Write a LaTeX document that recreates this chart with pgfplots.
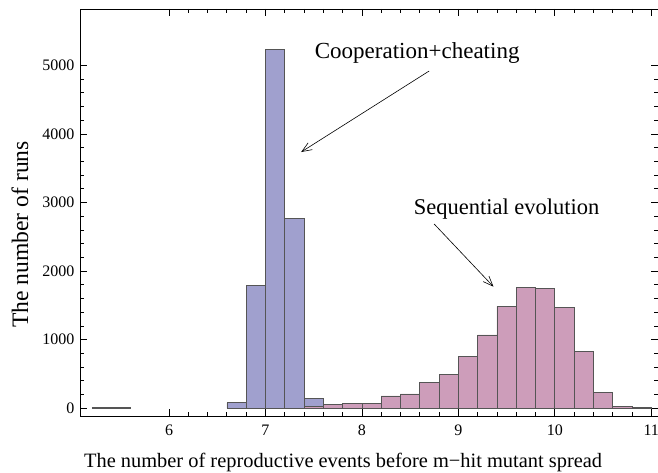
\documentclass[border=0pt]{standalone}
\usepackage{fontspec}
\setmainfont{Liberation Serif}
\usepackage{pgfplots}
\pgfplotsset{compat=1.18}
\usetikzlibrary{arrows.meta}

\definecolor{coopblue}{RGB}{160,160,206}
\definecolor{seqpink}{RGB}{205,157,186}
\definecolor{edgegray}{RGB}{85,85,85}

\begin{document}
\begin{tikzpicture}
\useasboundingbox (-80pt,-57pt) rectangle (578pt,416pt);
\begin{axis}[
  at={(0pt,0pt)}, anchor=south west,
  scale only axis, width=578pt, height=407pt,
  xmin=5.077, xmax=11.07, ymin=-112, ymax=5821,
  xtick={6,7,8,9,10,11}, minor x tick num=4,
  ytick={0,1000,2000,3000,4000,5000}, minor y tick num=4,
  tick align=inside,
  major tick length=7pt, minor tick length=4pt,
  every tick/.style={black, line width=0.8pt},
  axis line style={line width=0.8pt},
  /pgf/number format/assume math mode=true,
  /pgf/number format/1000 sep={},
  ticklabel style={font=\fontsize{16}{19}\selectfont},
  xticklabel style={yshift=-5pt},
  yticklabel style={xshift=-2pt},
  clip=false,
]
% cooperation + cheating
\addplot[ybar interval, fill=coopblue, draw=edgegray, line width=0.7pt]
  coordinates {(5.2,10) (5.4,10) (5.6,10)};
\addplot[ybar interval, fill=coopblue, draw=edgegray, line width=0.7pt]
  coordinates {(6.6,80) (6.8,1787) (7.0,5233) (7.2,2770) (7.4,150) (7.6,5) (7.8,5)};
% sequential evolution
\addplot[ybar interval, fill=seqpink, draw=edgegray, line width=0.7pt]
  coordinates {(7.4,30) (7.6,55) (7.8,75) (8.0,75) (8.2,180) (8.4,210)
               (8.6,375) (8.8,495) (9.0,760) (9.2,1070) (9.4,1485) (9.6,1765)
               (9.8,1750) (10.0,1465) (10.2,830) (10.4,230) (10.6,25) (10.8,10) (11.0,10)};

% annotations
\node[anchor=base, font=\fontsize{23}{27}\selectfont] at (axis cs:8.573,5106) {Cooperation+cheating};
\draw[line width=0.6pt, -{Straight Barb[length=10pt,width=8pt]}] (axis cs:8.697,4917) -- (axis cs:7.370,3736);
\node[anchor=base, font=\fontsize{22.5}{26}\selectfont] at (axis cs:9.501,2832) {Sequential evolution};
\draw[line width=0.6pt, -{Straight Barb[length=10pt,width=8pt]}] (axis cs:8.749,2687) -- (axis cs:9.364,1773);

% axis labels
\node[anchor=base, font=\fontsize{20.4}{24}\selectfont] at (axis cs:7.805,-863) {The number of reproductive events before m\textminus hit mutant spread};
\node[anchor=base, rotate=90, font=\fontsize{23.6}{27}\selectfont] at (axis cs:4.538,2534) {The number of runs};
\end{axis}
\end{tikzpicture}
\end{document}
